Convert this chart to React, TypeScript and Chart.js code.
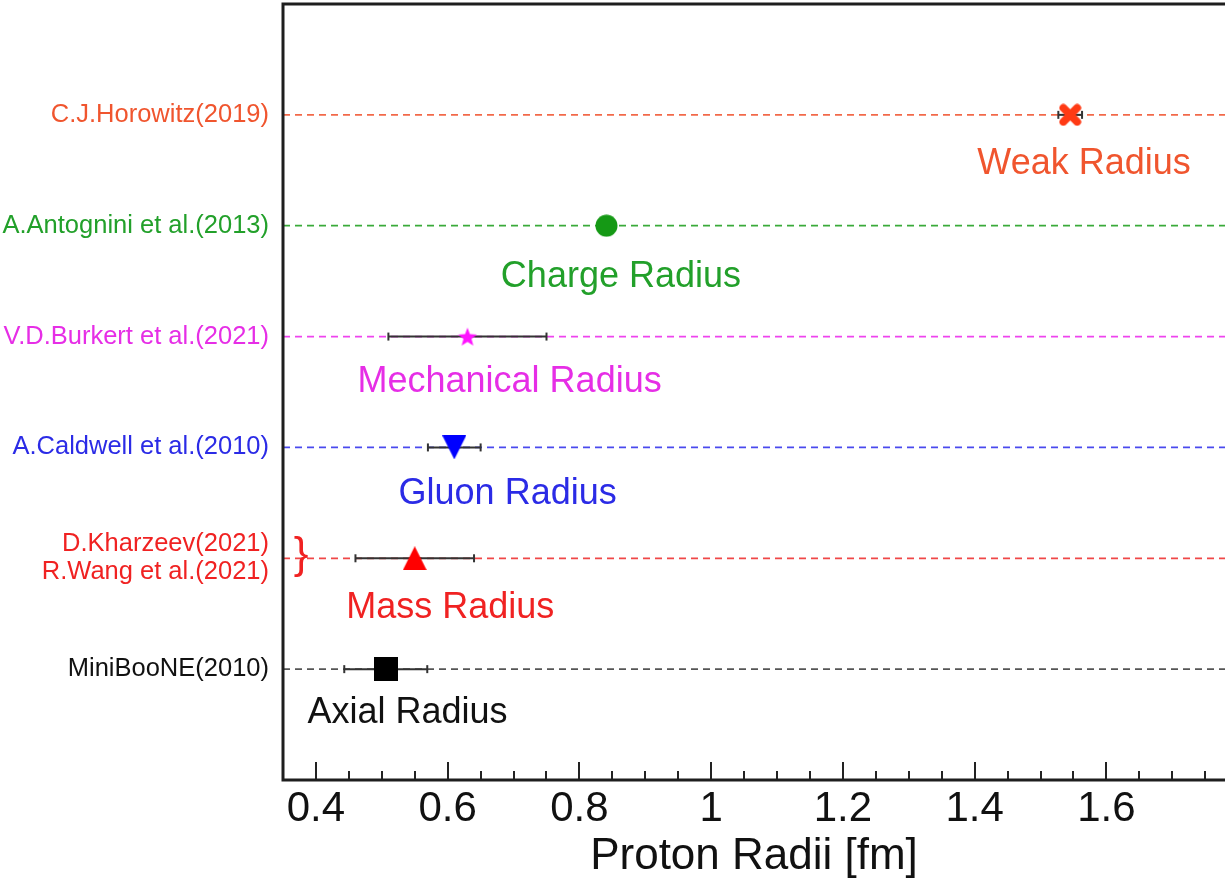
import React, { useEffect, useRef } from "react";
import { Chart, registerables } from "chart.js";

Chart.register(...registerables);

const FONT = "'Liberation Sans', Arial, Helvetica, sans-serif";

// ---- data ----
const rowPositions = [6, 5, 4, 3, 2, 1];
const referenceLabels: (string | string[])[] = [
  "C.J.Horowitz(2019)",
  "A.Antognini et al.(2013)",
  "V.D.Burkert et al.(2021)",
  "A.Caldwell et al.(2010)",
  ["D.Kharzeev(2021)", "R.Wang et al.(2021)"],
  "MiniBooNE(2010)",
];
const radiusNames = [
  "Weak Radius",
  "Charge Radius",
  "Mechanical Radius",
  "Gluon Radius",
  "Mass Radius",
  "Axial Radius",
];
const radiusValues = [1.545, 0.841, 0.63, 0.61, 0.55, 0.506];
const errorLow = [1.527, 0.8405, 0.51, 0.57, 0.46, 0.443];
const errorHigh = [1.563, 0.8413, 0.75, 0.65, 0.64, 0.569];
const nameX = [1.566, 0.863, 0.694, 0.691, 0.604, 0.539];
const nameDrop = [0.534, 0.553, 0.5, 0.51, 0.539, 0.486];
const xTickValues = [0.4, 0.6, 0.8, 1.0, 1.2, 1.4, 1.6];
const xTickLabels = ["0.4", "0.6", "0.8", "1", "1.2", "1.4", "1.6"];
const xMin = 0.35;
const xMax = 1.78;

// ---- styles ----
const markerShapes = ["x", "circle", "star", "triangleDown", "triangleUp", "square"];
const markerSizes = [23, 23, 20, 24, 24, 24];
const markerColors = ["#ff3a14", "#159915", "#ff14ff", "#0000ff", "#ff0000", "#000000"];
const labelColors = ["#f0552e", "#22a02a", "#e62ee6", "#2b2be6", "#f02222", "#111111"];
const lineColors = ["#f2694a", "#3aaa3a", "#ee44ee", "#4a4aee", "#f04848", "#555555"];

function makeMarker(shape: string, color: string, size: number): HTMLCanvasElement {
  const c = document.createElement("canvas");
  c.width = size;
  c.height = size;
  const g = c.getContext("2d")!;
  const s = size;
  const h = s / 2;
  g.fillStyle = color;
  g.strokeStyle = color;
  g.beginPath();
  if (shape === "circle") {
    g.arc(h, h, h - 0.5, 0, Math.PI * 2);
    g.fill();
  } else if (shape === "square") {
    g.rect(0, 0, s, s);
    g.fill();
  } else if (shape === "triangleUp") {
    g.moveTo(h, 0);
    g.lineTo(s, s);
    g.lineTo(0, s);
    g.closePath();
    g.fill();
  } else if (shape === "triangleDown") {
    g.moveTo(0, 0);
    g.lineTo(s, 0);
    g.lineTo(h, s);
    g.closePath();
    g.fill();
  } else if (shape === "star") {
    const R = h;
    const r = h * 0.42;
    for (let i = 0; i < 10; i++) {
      const rad = i % 2 === 0 ? R : r;
      const a = -Math.PI / 2 + (i * Math.PI) / 5;
      const px = h + rad * Math.cos(a);
      const py = h + 1 + rad * Math.sin(a);
      if (i === 0) g.moveTo(px, py);
      else g.lineTo(px, py);
    }
    g.closePath();
    g.fill();
  } else if (shape === "x") {
    g.lineWidth = s * 0.34;
    g.lineCap = "round";
    const m = s * 0.2;
    g.moveTo(m, m);
    g.lineTo(s - m, s - m);
    g.moveTo(s - m, m);
    g.lineTo(m, s - m);
    g.stroke();
  }
  return c;
}

const zeroPadding = (scale: any) => {
  scale.paddingTop = 0;
  scale.paddingBottom = 0;
  scale.paddingLeft = 0;
  scale.paddingRight = 0;
};

const decorPlugin = {
  id: "decor",
  afterDatasetsDraw(chart: any) {
    const { ctx, chartArea, scales } = chart;
    const xs = scales.x;
    const ys = scales.y;
    ctx.save();
    ctx.font = `36px ${FONT}`;
    ctx.textAlign = "center";
    ctx.textBaseline = "alphabetic";
    radiusNames.forEach((name, i) => {
      ctx.fillStyle = labelColors[i];
      ctx.fillText(name, xs.getPixelForValue(nameX[i]), ys.getPixelForValue(rowPositions[i] - nameDrop[i]));
    });
    ctx.fillStyle = "#f02222";
    ctx.font = `44px ${FONT}`;
    ctx.textBaseline = "middle";
    ctx.fillText("}", chartArea.left + 18, ys.getPixelForValue(rowPositions[4]) - 2);
    ctx.restore();
  },
  afterDraw(chart: any) {
    const { ctx, chartArea, scales } = chart;
    const xs = scales.x;
    ctx.save();
    ctx.strokeStyle = "#222";
    ctx.lineWidth = 2;
    for (let k = 0; ; k++) {
      const v = 0.4 + k * 0.05;
      if (v > xMax) break;
      const major = k % 4 === 0;
      const px = Math.round(xs.getPixelForValue(v));
      ctx.beginPath();
      ctx.moveTo(px, chartArea.bottom);
      ctx.lineTo(px, chartArea.bottom - (major ? 18 : 9));
      ctx.stroke();
    }
    ctx.strokeStyle = "#1e1e1e";
    ctx.lineWidth = 3;
    ctx.beginPath();
    ctx.moveTo(chartArea.right + 2, chartArea.top);
    ctx.lineTo(chartArea.left, chartArea.top);
    ctx.lineTo(chartArea.left, chartArea.bottom);
    ctx.lineTo(chartArea.right + 2, chartArea.bottom);
    ctx.stroke();
    ctx.restore();
  },
};

export default function App() {
  const ref = useRef<HTMLCanvasElement | null>(null);
  useEffect(() => {
    document.body.style.margin = "0";
    const canvas = ref.current!;
    const markers = markerShapes.map((s, i) => makeMarker(s, markerColors[i], markerSizes[i]));

    const dashed = rowPositions.map((y, i) => ({
      type: "line" as const,
      data: [
        { x: xMin, y },
        { x: xMax, y },
      ],
      borderColor: lineColors[i],
      borderWidth: 1.8,
      borderDash: [7, 5],
      pointRadius: 0,
      order: 3,
    }));
    const errors = rowPositions.map((y, i) => ({
      type: "line" as const,
      data: [
        { x: errorLow[i], y },
        { x: errorHigh[i], y },
      ],
      borderColor: "#333",
      borderWidth: 2,
      pointStyle: "line" as const,
      rotation: 90,
      pointRadius: 4,
      pointBorderWidth: 2,
      pointBorderColor: "#333",
      order: 2,
    }));
    const points = {
      type: "scatter" as const,
      data: rowPositions.map((y, i) => ({ x: radiusValues[i], y })),
      pointStyle: markers,
      order: 1,
    };

    const chart = new Chart(canvas, {
      type: "scatter",
      data: { datasets: [...dashed, ...errors, points] as any },
      options: {
        responsive: false,
        animation: false,
        layout: { autoPadding: false, padding: { top: 4, right: 0, left: 0, bottom: 0 } },
        plugins: { legend: { display: false }, tooltip: { enabled: false } },
        scales: {
          x: {
            type: "linear",
            min: xMin,
            max: xMax,
            grid: { display: false },
            border: { display: false },
            afterBuildTicks: (scale: any) => {
              scale.ticks = xTickValues.map((v) => ({ value: v }));
            },
            afterFit: (scale: any) => {
              scale.height = 103;
              zeroPadding(scale);
            },
            ticks: {
              autoSkip: false,
              maxRotation: 0,
              padding: -4,
              color: "#111",
              font: { family: FONT, size: 42 },
              callback: (v: any) => {
                const i = xTickValues.findIndex((t) => Math.abs(t - Number(v)) < 1e-6);
                return i >= 0 ? xTickLabels[i] : "";
              },
            },
            title: {
              display: true,
              text: "Proton Radii [fm]",
              color: "#111",
              font: { family: FONT, size: 44 },
              padding: { top: 0, bottom: 0 },
            },
          },
          y: {
            type: "linear",
            min: 0,
            max: 7,
            grid: { display: false },
            border: { display: false },
            afterBuildTicks: (scale: any) => {
              scale.ticks = rowPositions.map((v) => ({ value: v }));
            },
            afterFit: (scale: any) => {
              scale.width = 283;
              zeroPadding(scale);
            },
            ticks: {
              autoSkip: false,
              padding: 6,
              font: { family: FONT, size: 25.5, lineHeight: 1.1 },
              color: (ctx: any) => labelColors[rowPositions.indexOf(ctx.tick.value)] || "#111",
              callback: (v: any) => {
                const i = rowPositions.indexOf(Number(v));
                return i >= 0 ? referenceLabels[i] : "";
              },
            },
          },
        },
      },
      plugins: [decorPlugin],
    });
    return () => chart.destroy();
  }, []);

  return (
    <div style={{ position: "absolute", left: 0, top: 0, background: "#fff" }}>
      <canvas ref={ref} width={1225} height={883} style={{ display: "block" }} />
    </div>
  );
}
